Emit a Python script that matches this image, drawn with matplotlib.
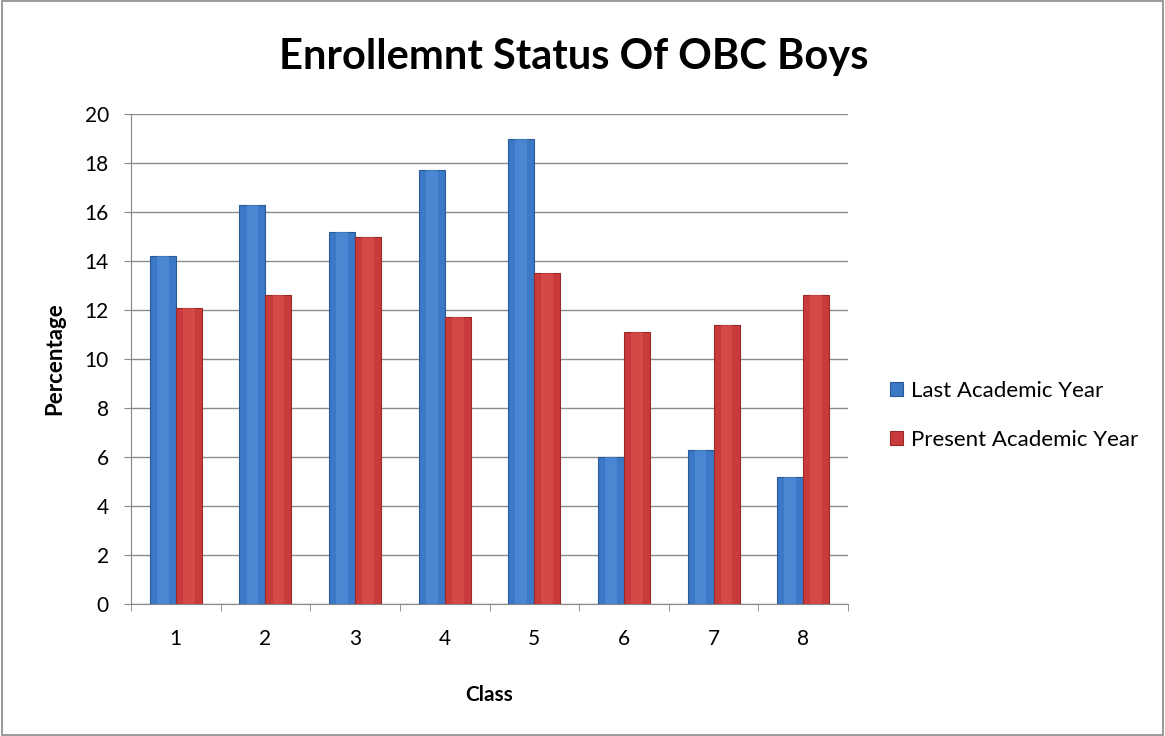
import matplotlib
matplotlib.use("Agg")
import matplotlib.pyplot as plt
from matplotlib.patches import Rectangle
import numpy as np

plt.rcParams['font.family'] = ['Lato', 'DejaVu Sans']

classes = ["1", "2", "3", "4", "5", "6", "7", "8"]
last_year = [14.2, 16.3, 15.2, 17.7, 19.0, 6.0, 6.3, 5.2]
present_year = [12.1, 12.6, 15.0, 11.7, 13.5, 11.1, 11.4, 12.6]
series_names = ["Last Academic Year", "Present Academic Year"]
y_ticks = list(range(0, 21, 2))

fig = plt.figure(figsize=(11.65, 7.36), dpi=100)
ax = fig.add_axes([131/1165, 1-604/736, (848-131)/1165, (604-114)/736])

x = np.arange(1, len(classes) + 1)
w = 0.29
blue = "#3b78c6"
red = "#c93b3b"
b1 = ax.bar(x - w/2, last_year, w, color=blue, edgecolor="#2a5a9a", linewidth=0.8, zorder=3, label=series_names[0])
b2 = ax.bar(x + w/2, present_year, w, color=red, edgecolor="#9a2a2a", linewidth=0.8, zorder=3, label=series_names[1])

# subtle highlight on bar centers
for bars, hl in ((b1, "#5b95df"), (b2, "#e05555")):
    for r in bars:
        ax.bar(r.get_x() + r.get_width()/2, r.get_height(), r.get_width()*0.45,
               color=hl, alpha=0.5, linewidth=0, zorder=3.5)

ax.set_xlim(0.5, 8.5)
ax.set_ylim(0, 20)
ax.set_yticks(y_ticks)
ax.set_yticklabels([str(t) for t in y_ticks], fontsize=15)
ax.set_xticks(x)
ax.set_xticklabels(classes, fontsize=15)
ax.tick_params(axis='x', length=0, pad=18)
ax.set_xticks(np.arange(0.5, 8.6, 1), minor=True)
ax.tick_params(axis='x', which='minor', length=5, color="#888888")
ax.tick_params(axis='y', length=5, color="#888888", pad=11)
ax.grid(axis='y', color="#8c8c8c", linewidth=1, zorder=0)
for s in ("top", "right"):
    ax.spines[s].set_visible(False)
for s in ("left", "bottom"):
    ax.spines[s].set_color("#888888")

ax.set_ylabel("Percentage", fontsize=16, fontweight='bold', labelpad=14)
ax.set_xlabel("Class", fontsize=15, fontweight='bold', labelpad=26)
fig.text(574/1165, 1-57/736, "Enrollemnt Status Of OBC Boys",
         ha='center', va='center', fontsize=30, fontweight='bold')

leg = ax.legend(handles=[b1, b2], labels=series_names, loc='center left',
                bbox_to_anchor=(1.03, 0.385), frameon=False, fontsize=16,
                handlelength=0.6, handleheight=0.6, handletextpad=0.35, labelspacing=1.3)

fig.patches.append(Rectangle((0.002, 0.002), 0.996, 0.996, transform=fig.transFigure,
                             fill=False, edgecolor="#888888", linewidth=1.2))

fig.savefig("out.png", dpi=100)
